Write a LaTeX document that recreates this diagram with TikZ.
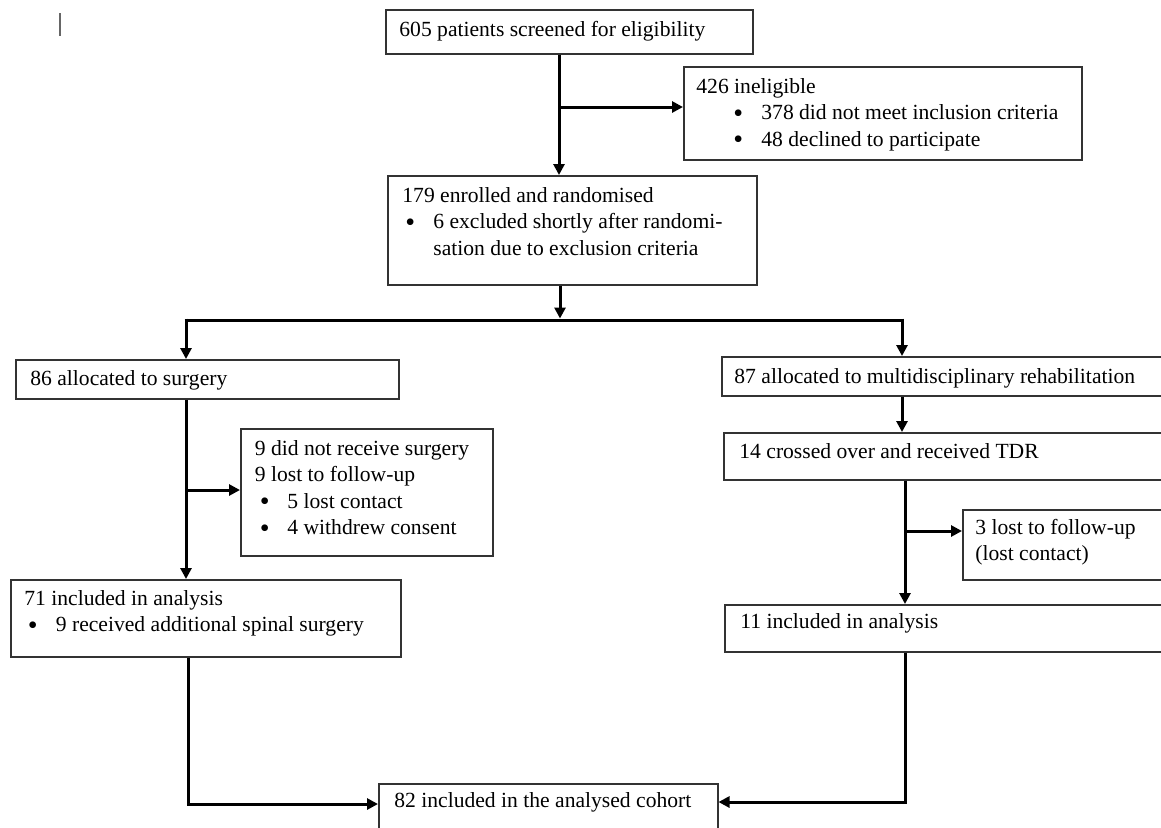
\documentclass[tikz,border=0pt]{standalone}
\usepackage{fontspec}
\setmainfont{Liberation Serif}
\usetikzlibrary{arrows.meta}
\newlength{\pxu}\setlength{\pxu}{0.5pt}
\newcommand{\bl}[2]{\hspace*{#1\pxu}\makebox[#2\pxu][l]{\raisebox{-1.3pt}{\fontsize{14pt}{13.25pt}\selectfont\textbullet}}}
\newcommand{\tbox}[1]{\parbox[t]{260pt}{\raggedright #1}}
\begin{document}
\begin{tikzpicture}[x=0.5pt,y=-0.5pt,
  box/.style={draw=black!80,line width=0.75pt,rectangle,inner sep=0pt,anchor=north west},
  txt/.style={inner sep=0pt,anchor=base west,font=\fontsize{10.8pt}{13.25pt}\selectfont},
  arr/.style={line width=1.5pt,-{Triangle[length=5.5pt,width=5.5pt]}},
  ln/.style={line width=1.5pt}]
\useasboundingbox (0,0) rectangle (1161,827);
\clip (0,0) rectangle (1161,827);
% text cursor
\draw[black!60,line width=0.6pt] (60,13) -- (60,36);
% boxes
\node[box,minimum width=183.5pt,minimum height=22pt] (b1) at (385,9) {};
\node[box,minimum width=199pt,minimum height=46.5pt] (inel) at (683,66) {};
\node[box,minimum width=184.5pt,minimum height=54.5pt] (enr) at (387,175) {};
\node[box,minimum width=191.5pt,minimum height=19.5pt] (surg) at (15,359) {};
\node[box,minimum width=126pt,minimum height=63.5pt] (nrs) at (240,428) {};
\node[box,minimum width=195pt,minimum height=38.5pt] (a71) at (10,579) {};
\node[box,minimum width=227pt,minimum height=19.5pt] (rehab) at (721,356) {};
\node[box,minimum width=226pt,minimum height=23.5pt] (cross) at (723,432) {};
\node[box,minimum width=106.5pt,minimum height=35pt] (lost) at (962,509) {};
\node[box,minimum width=225.5pt,minimum height=23.5pt] (a11) at (724,604) {};
\node[box,minimum width=169.5pt,minimum height=25pt] (coh) at (378,783) {};
% texts
\node[txt] (tb1) at (399,36) {\tbox{605 patients screened for eligibility}};
\node[txt] (tinel) at (696,93) {\tbox{426 ineligible\\
  \bl{37}{28}378 did not meet inclusion criteria\\
  \bl{37}{28}48 declined to participate}};
\node[txt] (tenr) at (402,202) {\tbox{179 enrolled and randomised\\
  \bl{3}{28}6 excluded shortly after randomi-\\
  \hspace*{31\pxu}sation due to exclusion criteria}};
\node[txt] (tsurg) at (30,385) {\tbox{86 allocated to surgery}};
\node[txt] (tnrs) at (254.5,455) {\tbox{9 did not receive surgery\\
  9 lost to follow-up\\
  \bl{5}{27.5}5 lost contact\\
  \bl{5}{27.5}4 withdrew consent}};
\node[txt] (ta71) at (24,605) {\tbox{71 included in analysis\\
  \bl{3.5}{28}9 received additional spinal surgery}};
\node[txt] (trehab) at (734,383) {\tbox{87 allocated to multidisciplinary rehabilitation}};
\node[txt] (tcross) at (739,458) {\tbox{14 crossed over and received TDR}};
\node[txt] (tlost) at (975,534) {\tbox{3 lost to follow-up\\(lost contact)}};
\node[txt] (ta11) at (740,628) {\tbox{11 included in analysis}};
\node[txt] (tcoh) at (394,807) {\tbox{82 included in the analysed cohort}};
% guide coordinates
\coordinate (xa) at (559,0);
\coordinate (ya) at (0,107);
\coordinate (xb) at (560,0);
\coordinate (ys) at (0,320);
\coordinate (xl) at (186,0);
\coordinate (xr) at (902,0);
\coordinate (yl) at (0,490);
\coordinate (xr2) at (905,0);
\coordinate (yr) at (0,531);
\coordinate (yc1) at (0,804);
\coordinate (yc2) at (0,802);
% connectors
\draw[arr] (b1.south -| xa) -- (enr.north -| xa);
\draw[arr] (xa |- ya) -- (inel.west |- ya);
\draw[arr] (enr.south -| xb) -- ([yshift=0.75pt]xb |- ys);
\draw[ln] ([xshift=-0.75pt]xl |- ys) -- ([xshift=0.75pt]xr |- ys);
\draw[arr] ([yshift=0.75pt]xl |- ys) -- (surg.north -| xl);
\draw[arr] ([yshift=0.75pt]xr |- ys) -- (rehab.north -| xr);
\draw[arr] (surg.south -| xl) -- (a71.north -| xl);
\draw[arr] (xl |- yl) -- (nrs.west |- yl);
\draw[arr] (rehab.south -| xr) -- (cross.north -| xr);
\draw[arr] (cross.south -| xr2) -- (a11.north -| xr2);
\draw[arr] (xr2 |- yr) -- (lost.west |- yr);
\draw[arr] ([xshift=1pt]a71.south -| xl) -- ([xshift=1pt]xl |- yc1) -- (coh.west |- yc1);
\draw[arr] (a11.south -| xr2) -- (xr2 |- yc2) -- (coh.east |- yc2);
\end{tikzpicture}
\end{document}
